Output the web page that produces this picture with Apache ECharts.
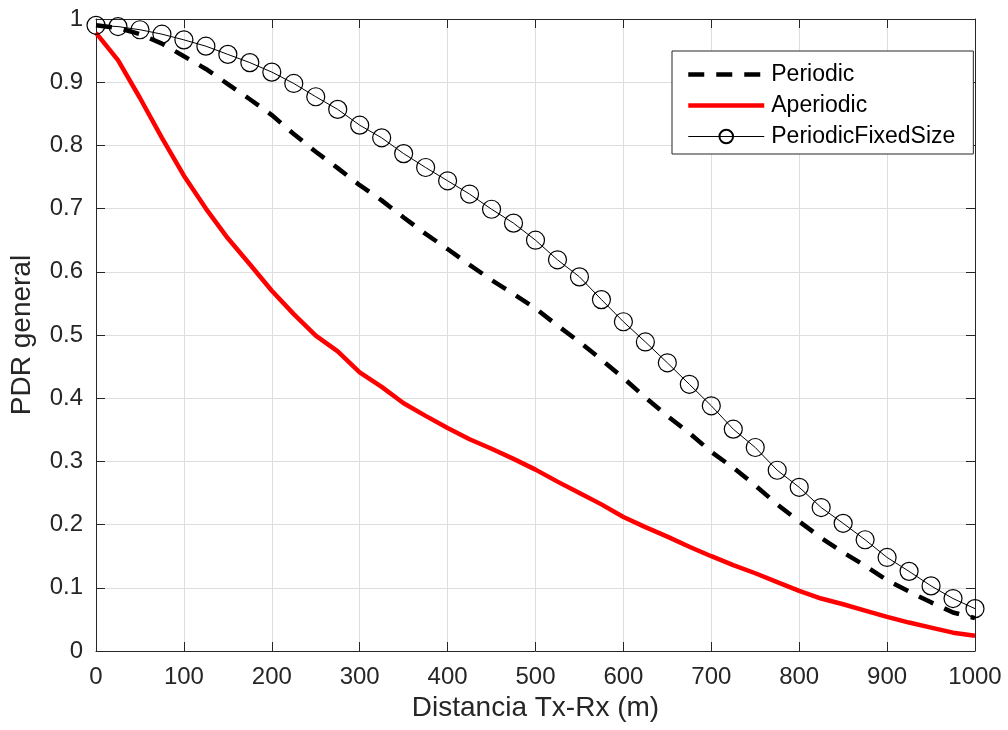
<!DOCTYPE html>
<html>
<head>
<meta charset="utf-8">
<script src="https://cdn.jsdelivr.net/npm/echarts@6/dist/echarts.min.js"></script>
<style>
html,body{margin:0;padding:0;background:#fff;}
#chart{width:1008px;height:730px;}
</style>
</head>
<body>
<div id="chart"></div>
<script>
// Distance (m)
var distance = [0,25,50,75,100,125,150,175,200,225,250,275,300,325,350,375,400,425,450,475,500,525,550,575,600,625,650,675,700,725,750,775,800,825,850,875,900,925,950,975,1000];
// PDR values
var periodic = [0.990,0.986,0.976,0.961,0.941,0.921,0.897,0.873,0.848,0.818,0.790,0.764,0.737,0.713,0.686,0.660,0.636,0.611,0.587,0.565,0.542,0.515,0.489,0.461,0.432,0.401,0.372,0.345,0.315,0.290,0.262,0.232,0.205,0.179,0.156,0.135,0.112,0.094,0.077,0.061,0.052];
var aperiodic = [0.978,0.935,0.875,0.812,0.752,0.700,0.653,0.612,0.570,0.533,0.499,0.474,0.441,0.418,0.392,0.372,0.353,0.335,0.320,0.304,0.287,0.268,0.250,0.232,0.212,0.196,0.181,0.165,0.150,0.136,0.123,0.109,0.095,0.083,0.074,0.064,0.054,0.045,0.037,0.029,0.024];
var periodicFixedSize = [0.990,0.988,0.983,0.976,0.967,0.957,0.944,0.931,0.916,0.898,0.877,0.857,0.832,0.812,0.787,0.765,0.744,0.723,0.699,0.677,0.650,0.619,0.592,0.556,0.521,0.489,0.456,0.422,0.388,0.351,0.322,0.286,0.259,0.227,0.202,0.176,0.148,0.126,0.103,0.083,0.067];
var seriesNames = ['Periodic','Aperiodic','PeriodicFixedSize'];
var xName = 'Distancia Tx-Rx (m)';
var yName = 'PDR general';

function pairs(xs, ys){ var out=[]; for(var i=0;i<xs.length;i++){ out.push([xs[i], ys[i]]); } return out; }

var axisColor = '#262626';
var gridColor = '#dedede';
var font = '"Liberation Sans", Arial, sans-serif';

var chart = echarts.init(document.getElementById('chart'), null, {renderer:'canvas'});
var baseX = {
  type:'value', min:0, max:1000, interval:100,
  axisLine:{show:true, onZero:false, lineStyle:{color:axisColor, width:1}},
  axisTick:{show:true, inside:true, length:9, lineStyle:{color:axisColor}},
  splitLine:{show:false}
};
var baseY = {
  type:'value', min:0, max:1, interval:0.1,
  axisLine:{show:true, onZero:false, lineStyle:{color:axisColor, width:1}},
  axisTick:{show:true, inside:true, length:9, lineStyle:{color:axisColor}},
  splitLine:{show:false}
};
var option = {
  animation:false,
  backgroundColor:'#fff',
  grid:{left:95, right:33, top:19, bottom:79, containLabel:false},
  xAxis:[
    Object.assign({}, baseX, {
      position:'bottom',
      name:xName, nameLocation:'middle', nameGap:40,
      nameTextStyle:{color:axisColor, fontSize:28, fontFamily:font},
      axisLabel:{show:true, color:axisColor, fontSize:24, fontFamily:font, margin:14,
        formatter:function(v){ return String(Math.round(v)); }},
      splitLine:{show:true, lineStyle:{color:gridColor, width:1}}
    }),
    Object.assign({}, baseX, {position:'top', axisLabel:{show:false}})
  ],
  yAxis:[
    Object.assign({}, baseY, {
      position:'left',
      name:yName, nameLocation:'middle', nameGap:60,
      nameTextStyle:{color:axisColor, fontSize:28, fontFamily:font},
      axisLabel:{show:true, color:axisColor, fontSize:24, fontFamily:font, margin:13,
        formatter:function(v){ return (Math.round(v*10)/10).toString(); }},
      splitLine:{show:true, lineStyle:{color:gridColor, width:1}}
    }),
    Object.assign({}, baseY, {position:'right', axisLabel:{show:false}})
  ],
  legend:{
    show:true, orient:'vertical', left:672, top:51,
    padding:[12,18,6,14], itemGap:8, itemWidth:76, itemHeight:17,
    backgroundColor:'#fff', borderColor:axisColor, borderWidth:1, borderRadius:0,
    selectedMode:false,
    lineStyle:{width:'inherit', type:'inherit'},
    textStyle:{color:'#000', fontSize:23, fontFamily:font, padding:[0,0,0,2]},
    data:seriesNames
  },
  series:[
    {
      name:seriesNames[0], type:'line', xAxisIndex:0, yAxisIndex:0,
      data:pairs(distance, periodic), showSymbol:false, symbol:'none',
      lineStyle:{color:'#000', width:4.5, type:[16,12]},
      itemStyle:{color:'rgba(0,0,0,0)', borderWidth:0}, z:2
    },
    {
      name:seriesNames[1], type:'line', xAxisIndex:0, yAxisIndex:0,
      data:pairs(distance, aperiodic), showSymbol:false, symbol:'none',
      lineStyle:{color:'#ff0000', width:4.5},
      itemStyle:{color:'rgba(0,0,0,0)', borderWidth:0}, z:3
    },
    {
      name:seriesNames[2], type:'line', xAxisIndex:0, yAxisIndex:0,
      data:pairs(distance, periodicFixedSize), symbol:'circle', symbolSize:18, showAllSymbol:true,
      lineStyle:{color:'#000', width:1},
      itemStyle:{color:'rgba(0,0,0,0)', borderColor:'#000', borderWidth:1.2}, z:4
    }
  ]
};
chart.setOption(option);
</script>
</body>
</html>
